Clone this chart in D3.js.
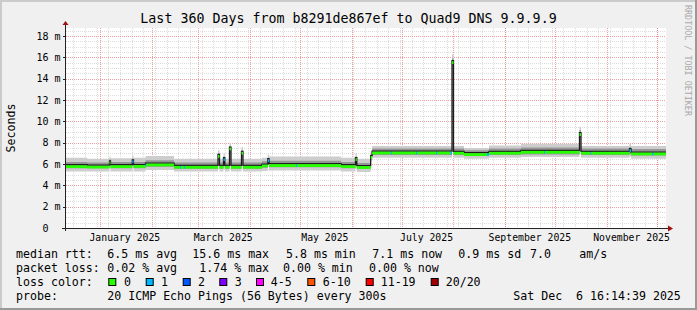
<!DOCTYPE html>
<html><head><meta charset="utf-8">
<script src="https://cdn.jsdelivr.net/npm/d3@7"></script>
<style>
body{margin:0;background:#f0f0f0}
svg{display:block}
text{font-family:"DejaVu Sans Mono",monospace;white-space:pre;fill:#000}
</style></head>
<body><svg id="c" width="697" height="310"></svg>
<script>
// ---------- data ----------
const titleText = "Last 360 Days from b8291de867ef to Quad9 DNS 9.9.9.9";
const startTime = "2024-12-11 16:14";
const endTime   = "2025-12-06 16:14";
const times  = ["2024-12-11 16:14","2024-12-24 10:00","2025-01-06 18:43","2025-01-07 09:00","2025-01-20 11:00","2025-01-21 04:19",
  "2025-01-28 09:00","2025-01-28 23:00","2025-02-14 11:30","2025-02-18 02:00","2025-02-18 16:00","2025-02-20 11:30","2025-02-21 02:00",
  "2025-03-12 21:00","2025-03-13 18:43","2025-03-16 04:19","2025-03-16 23:00","2025-03-19 18:43","2025-03-20 16:19","2025-03-26 23:30",
  "2025-03-27 21:00","2025-04-08 06:43","2025-04-11 18:14","2025-04-12 11:30","2025-04-28 16:19","2025-04-29 07:00","2025-05-25 16:19",
  "2025-06-03 09:00","2025-06-04 04:00","2025-06-12 11:30","2025-06-13 09:00","2025-06-24 12:00","2025-06-25 03:00","2025-07-09 16:19",
  "2025-07-10 07:00","2025-07-21 16:19","2025-07-22 07:00","2025-07-30 09:00","2025-07-31 06:43","2025-08-01 04:19","2025-08-07 11:30",
  "2025-08-21 06:43","2025-08-22 11:30","2025-09-10 16:19","2025-09-24 11:30","2025-09-25 02:00","2025-10-15 18:43","2025-10-16 16:19",
  "2025-10-22 09:00","2025-10-23 00:00","2025-11-14 18:43","2025-11-15 16:19","2025-11-28 06:43","2025-11-29 04:19","2025-12-06 16:14"];
// median rtt in ms
const median = [5.84,5.80,6.2,5.84,6.3,5.86, 6.0,6.0,5.78,5.78,5.78,5.78,5.78, 6.8,5.78,6.5,5.78,7.5,5.78,7.1,
  5.78,5.9,6.4,5.94,5.94,5.94,5.84, 6.5,5.76,6.7,7.12,7.12,7.12,7.12, 7.12,7.12,7.12,7.12,15.6,7.1,6.97,
  6.97,7.1,7.19,7.19,7.19,8.85,7.1, 7.1,7.1,7.35,7.03,7.03,7.03,7.03];
// loss colour class (index into lossLabels)
const loss = [0,0,0,0,1,0, 1,0,0,1,0,1,0, 0,0,1,0,0,0,0, 0,0,1,0,1,0,0, 0,0,0,0,1,0,1, 0,1,0,1,0,0,0,
  1,0,0,1,0,0,0, 1,0,1,0,1,0,0];
// smoke extents (ms)
const smokeLo = [5.3,5.3,5.9,5.3,5.9,5.3, 5.45,5.45,5.3,5.3,5.3,5.3,5.3, 6.3,5.3,6.1,5.3,7.0,5.3,6.6,
  5.3,5.35,6.0,5.4,5.4,5.4,5.3, 6.1,5.25,6.3,6.6,6.6,6.6,6.6, 6.6,6.6,6.6,6.6,15.0,6.6,6.5,
  6.5,6.6,6.65,6.65,6.65,8.3,6.6, 6.6,6.6,6.7,6.5,6.5,6.5,6.5];
const smokeHi = [6.6,6.5,6.7,6.55,6.8,6.6, 6.75,6.75,6.5,6.5,6.5,6.5,6.5, 7.3,6.5,7.0,6.5,8.0,6.5,7.6,
  6.5,6.6,6.9,6.7,6.7,6.7,6.6, 7.0,6.5,7.2,7.7,7.7,7.7,7.7, 7.7,7.7,7.7,7.7,16.3,7.7,7.5,
  7.5,7.75,7.9,7.9,7.9,9.5,7.7, 7.7,7.7,7.9,7.7,7.7,7.7,7.7];
const coreLo = [5.6,5.6,6.0,5.6,6.05,5.6, 5.75,5.75,5.55,5.55,5.55,5.55,5.55, 6.45,5.55,6.25,5.55,7.2,5.55,6.8,
  5.55,5.65,6.15,5.7,5.7,5.7,5.6, 6.25,5.55,6.45,6.85,6.85,6.85,6.85, 6.85,6.85,6.85,6.85,15.3,6.85,6.75,
  6.75,6.85,6.9,6.9,6.9,8.5,6.85, 6.85,6.85,6.95,6.8,6.8,6.8,6.8];
const coreHi = [6.2,6.15,6.45,6.2,6.5,6.2, 6.35,6.35,6.15,6.15,6.15,6.15,6.15, 7.0,6.15,6.7,6.15,7.7,6.15,7.3,
  6.15,6.25,6.6,6.3,6.3,6.3,6.2, 6.7,6.1,6.95,7.45,7.45,7.45,7.45, 7.45,7.45,7.45,7.45,15.9,7.45,7.3,
  7.3,7.45,7.55,7.55,7.55,9.2,7.45, 7.45,7.45,7.6,7.4,7.4,7.4,7.4];

const yTicks = [0,2,4,6,8,10,12,14,16,18];
const yTickLabels = ["0  ","2 m","4 m","6 m","8 m","10 m","12 m","14 m","16 m","18 m"];
const monthLabelDates = ["2025-01-16","2025-03-16","2025-05-16","2025-07-16","2025-09-16","2025-11-16"];
const monthLabels = ["January 2025","March 2025","May 2025","July 2025","September 2025","November 2025"];
const lossLabels = ["0","1","2","3","4-5","6-10","11-19","20/20"];
const lossColors = ["#26ff00","#00b8ff","#0059ff","#7e00ff","#ff00ff","#ff5500","#ff0000","#a10000"];
const rttStats = ["6.5 ms avg","15.6 ms max","5.8 ms min","7.1 ms now","0.9 ms sd","7.0","am/s"];
const lossStats = ["0.02 % avg","1.74 % max","0.00 % min","0.00 % now"];
const probeText = "20 ICMP Echo Pings (56 Bytes) every 300s";
const dateText = "Sat Dec  6 16:14:39 2025";

// ---------- drawing ----------
const parse = d3.timeParse("%Y-%m-%d %H:%M");
const parseDay = d3.timeParse("%Y-%m-%d");
const svg = d3.select("#c");
const L=66, R=666, T=28, B=228;
const x = d3.scaleTime().domain([parse(startTime), parse(endTime)]).range([L,R]);
const y = d3.scaleLinear().domain([0,18.76]).range([B,T]);
const data = times.map((t,i)=>({t:parse(t),m:median[i],l:loss[i],lo:smokeLo[i],hi:smokeHi[i],clo:coreLo[i],chi:coreHi[i]}));

// background & border
svg.append("rect").attr("width",697).attr("height",310).attr("fill","#f0f0f0");
svg.append("path").attr("d","M0,310V0H697").attr("fill","none").attr("stroke","#cbcbcb").attr("stroke-width",4);
svg.append("path").attr("d","M697,0V310H0").attr("fill","none").attr("stroke","#999999").attr("stroke-width",4);
svg.append("rect").attr("x",L).attr("y",T).attr("width",R-L).attr("height",B-T).attr("fill","#ffffff");

const cr = v => Math.round(v)+0.5;
const g = svg.append("g");
// minor grid
d3.timeMonday.range(x.domain()[0], x.domain()[1]).forEach(d=>{
  g.append("line").attr("x1",cr(x(d))).attr("x2",cr(x(d))).attr("y1",T).attr("y2",B)
   .attr("stroke","#bababa").attr("stroke-opacity",0.5).attr("stroke-dasharray","1,1");
});
d3.range(0,18.76,0.5).filter(v=>v%2!==0).forEach(v=>{
  g.append("line").attr("x1",L).attr("x2",R).attr("y1",cr(y(v))).attr("y2",cr(y(v)))
   .attr("stroke","#bababa").attr("stroke-opacity",0.5).attr("stroke-dasharray","1,1");
});
// major grid
d3.timeMonth.range(x.domain()[0], x.domain()[1]).forEach(d=>{
  g.append("line").attr("x1",cr(x(d))).attr("x2",cr(x(d))).attr("y1",T).attr("y2",B)
   .attr("stroke","#e05050").attr("stroke-opacity",0.55).attr("stroke-dasharray","1,1");
});
yTicks.forEach(v=>{
  g.append("line").attr("x1",L).attr("x2",R).attr("y1",cr(y(v))).attr("y2",cr(y(v)))
   .attr("stroke","#e05050").attr("stroke-opacity",0.55).attr("stroke-dasharray","1,1");
});

// smoke
const areaOuter = d3.area().curve(d3.curveStepAfter).x(d=>x(d.t)).y0(d=>y(d.lo)).y1(d=>y(d.hi));
const areaCore  = d3.area().curve(d3.curveStepAfter).x(d=>x(d.t)).y0(d=>y(d.clo)).y1(d=>y(d.chi));
svg.append("path").datum(data).attr("d",areaOuter).attr("fill","#cdcdcd");
svg.append("path").datum(data).attr("d",areaCore).attr("fill","#969696");
// dark median line
const line = d3.line().curve(d3.curveStepAfter).x(d=>x(d.t)).y(d=>y(d.m)-1);
svg.append("path").datum(data).attr("d",line).attr("fill","none").attr("stroke","#1c1c1c").attr("stroke-width",1.3);
// loss-coloured median band
svg.append("g").selectAll("rect").data(data.slice(0,-1)).join("rect")
  .attr("x",d=>x(d.t)).attr("width",(d,i)=>Math.max(1,x(data[i+1].t)-x(d.t)))
  .attr("y",d=>y(d.m)-0.5).attr("height",2.8).attr("fill",d=>lossColors[d.l]);

// axes
svg.append("line").attr("x1",62).attr("x2",670).attr("y1",B+0.5).attr("y2",B+0.5).attr("stroke","#222");
svg.append("line").attr("x1",L-0.5).attr("x2",L-0.5).attr("y1",B+3).attr("y2",T-4).attr("stroke","#222");
svg.append("path").attr("d",`M${L-3.5},${T-3}L${L-0.5},${T-7}L${L+2.5},${T-3}Z`).attr("fill","#a01010");
svg.append("path").attr("d",`M668,${B-2.5}L673,${B+0.5}L668,${B+3.5}Z`).attr("fill","#a01010");
yTicks.forEach(v=>{
  svg.append("line").attr("x1",L-3).attr("x2",L).attr("y1",cr(y(v))).attr("y2",cr(y(v))).attr("stroke","#222");
});

// tick labels
yTicks.forEach((v,i)=>{
  svg.append("text").attr("x",60.5).attr("y",y(v)+3.6).attr("text-anchor","end")
    .style("font-size","10px").text(yTickLabels[i]);
});
monthLabelDates.forEach((d,i)=>{
  svg.append("text").attr("x",x(parseDay(d))).attr("y",240.5).attr("text-anchor","middle")
    .style("font-size","9.8px").text(monthLabels[i]);
});

// title, axis label, watermark
svg.append("text").attr("x",348.5).attr("y",22.5).attr("text-anchor","middle").style("font-size","13.3px").text(titleText);
svg.append("text").attr("transform","translate(15,128) rotate(-90)").attr("text-anchor","middle")
  .style("font-size","11.6px").text("Seconds");
svg.append("text").attr("transform","translate(685,5) rotate(90)").attr("text-anchor","start")
  .style("font-size","8.4px").style("fill","#aaaaaa").text("RRDTOOL / TOBI OETIKER");

// legend
const fs = "11.6px";
const leg = (tx,xx,yy)=>svg.append("text").attr("x",xx).attr("y",yy).style("font-size",fs).text(tx);
leg("median rtt:",16,258);
[107.3,192.3,286,372.3,458.3,530,579.3].forEach((xx,i)=>leg(rttStats[i],xx,258));
leg("packet loss:",16,272);
[107.3,199.3,283,369].forEach((xx,i)=>leg(lossStats[i],xx,272));
leg("loss color:",16,286);
const boxX=[108.3,145.7,182.7,219.3,256,307.3,365.7,430.7];
const labX=[124,161,198,234.7,270.7,322.7,380.7,445.7];
lossLabels.forEach((lb,i)=>{
  svg.append("rect").attr("x",boxX[i]+0.5).attr("y",278.5).attr("width",7).attr("height",7)
    .attr("fill",lossColors[i]).attr("stroke","#000");
  leg(lb,labX[i],286);
});
leg("probe:",16,299.5);
leg(probeText,107.3,299.5);
leg(dateText,513.3,299.5);
</script></body></html>
